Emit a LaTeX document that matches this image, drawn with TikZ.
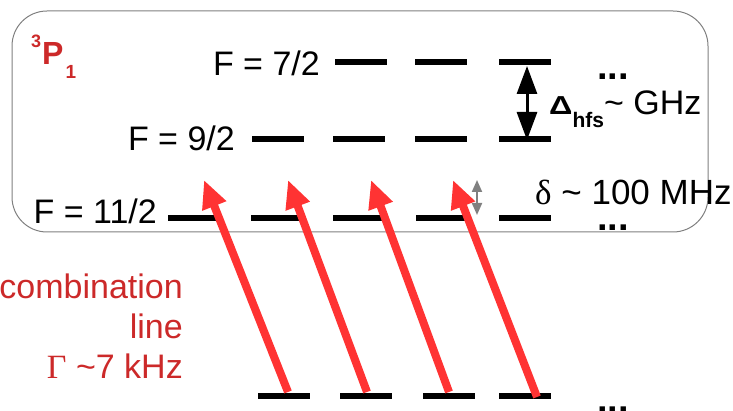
\documentclass[tikz,border=0pt]{standalone}
\usepackage{fontspec}
\setmainfont{Liberation Sans}
\newfontfamily\greekserif{Liberation Serif}
\usetikzlibrary{arrows.meta}

\definecolor{labelred}{HTML}{CC2929}
\definecolor{beamred}{HTML}{FF3333}

\tikzset{
  level/.style={line width=6pt},
  beam/.style={beamred, line width=8pt, -{Triangle[length=28pt,width=24pt]}},
  hfssplit/.style={line width=3pt, {Triangle[length=28pt,width=20pt]}-{Triangle[length=28pt,width=20pt]}},
  finesplit/.style={gray, line width=2pt, {Triangle[length=12pt,width=10pt]}-{Triangle[length=12pt,width=10pt]}},
  lbl/.style={inner sep=0pt, font=\fontsize{34}{40}\selectfont},
  more/.style={inner sep=0pt, font=\fontsize{38}{40}\selectfont\bfseries}
}

\begin{document}
\begin{tikzpicture}[x=1pt, y=-1pt]
  \useasboundingbox (0,0) rectangle (733,411);

  % 3P1 manifold
  \draw[gray, line width=1pt, rounded corners=35pt] (12,11) rectangle (708,232);
  \node[inner sep=0pt, anchor=base west, text=labelred,
        font=\fontsize{32}{36}\selectfont\bfseries] (term) at (42,65)
    {\llap{\raisebox{17pt}{\fontsize{18}{18}\selectfont 3}\hspace{1pt}}P\hspace{2pt}\raisebox{-14pt}{\fontsize{19}{19}\selectfont 1}};

  % hyperfine levels
  \foreach \x in {335,415,499}
    \draw[level] (\x,62.5) -- ++(52,0);
  \foreach \x in {252,333,415,499}
    \draw[level] (\x,139.5) -- ++(52,0);
  \foreach \x in {168,251,333,416,499}
    \draw[level] (\x,218) -- ++(52,0);
  \foreach \x in {258,340,423,499}
    \draw[level] (\x,395.5) -- ++(52,0);

  \node[lbl, anchor=base east] (f7) at (320,76) {F = 7/2};
  \node[lbl, anchor=base east] (f9) at (235,151) {F = 9/2};
  \node[lbl, anchor=base east] (f11) at (157,224) {F = 11/2};

  \node[more, anchor=base west] (dotsA) at (597,80) {...};
  \node[more, anchor=base west] (dotsB) at (597,231) {...};
  \node[more, anchor=base west] (dotsC) at (597,412) {...};

  % splittings
  \coordinate (hfsTop) at (527,66);
  \coordinate (hfsBot) at (527,140);
  \draw[hfssplit] (hfsTop) -- (hfsBot);
  \node[inner sep=0pt, anchor=base west] (hfs) at (549,115)
    {\scalebox{1.25}[1]{\fontsize{26}{26}\selectfont\bfseries Δ}\raisebox{-13pt}{\fontsize{21}{24}\selectfont\bfseries hfs}\fontsize{34}{40}\selectfont\textasciitilde{} GHz};

  \coordinate (finTop) at (477,180);
  \coordinate (finBot) at (477,215);
  \draw[finesplit] (finTop) -- (finBot);
  \node[lbl, anchor=base west, font=\fontsize{35}{40}\selectfont] (fine) at (535,205)
    {{\greekserif δ} \textasciitilde{} 100 MHz};

  % combination line excitation
  \foreach \i/\gx/\gy/\tx in {1/288/392/204, 2/367/392/288, 3/449/392/371, 4/537/397/453} {
    \coordinate (g\i) at (\gx,\gy);
    \coordinate (e\i) at (\tx,180);
    \draw[beam] (g\i) -- (e\i);
  }

  \node[lbl, anchor=base east, align=right, text=labelred] (comb) at (183,378)
    {combination\\line\\{\greekserif Γ} \textasciitilde7 kHz};
\end{tikzpicture}
\end{document}
